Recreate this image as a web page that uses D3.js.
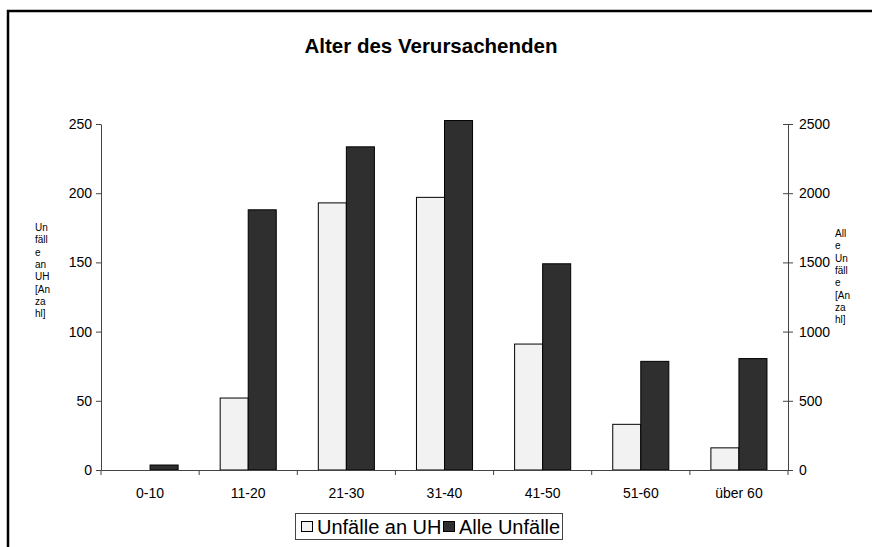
<!DOCTYPE html>
<html><head><meta charset="utf-8">
<script src="https://cdn.jsdelivr.net/npm/d3@7"></script>
<style>body{margin:0;background:#fff}svg{display:block}text{font-family:"Liberation Sans",Arial,sans-serif}</style>
</head><body>
<svg id="c" width="872" height="547"></svg>
<script>
const categories = ["0-10","11-20","21-30","31-40","41-50","51-60","über 60"];
const uhValues = [0, 52, 193, 197, 91, 33, 16];
const alleValues = [36, 1880, 2335, 2525, 1490, 785, 805];
const leftTicks = [0, 50, 100, 150, 200, 250];
const rightTicks = [0, 500, 1000, 1500, 2000, 2500];
const seriesNames = ["Unfälle an UH", "Alle Unfälle"];
const leftLabelLines = ["Un","fäll","e","an","UH","[An","za","hl]"];
const rightLabelLines = ["All","e","Un","fäll","e","[An","za","hl]"];

const svg = d3.select("#c");
const L = 101, R = 788, T = 124, B = 470;
const x = d3.scaleBand().domain(categories).range([L, R]).paddingInner(0).paddingOuter(0);
const xs = d3.scaleBand().domain(seriesNames).range([0, x.bandwidth()]).paddingInner(0).paddingOuter(0.75);
const yL = d3.scaleLinear().domain([0, 250]).range([B, T]);
const yR = d3.scaleLinear().domain([0, 2500]).range([B, T]);

// frame
svg.append("path").attr("d", "M8,547V11H872").attr("fill", "none").attr("stroke", "#000").attr("stroke-width", 2.5);

// title
svg.append("text").attr("x", 431).attr("y", 53).attr("text-anchor", "middle")
  .attr("font-size", 20.5).attr("font-weight", "bold").text("Alter des Verursachenden");

const colors = ["#f2f2f2", "#2f2f2f"];
// bars
const g = svg.append("g");
categories.forEach((c, i) => {
  if (uhValues[i] > 0)
    g.append("rect").attr("x", x(c) + xs(seriesNames[0])).attr("y", yL(uhValues[i]))
      .attr("width", xs.bandwidth()).attr("height", B - yL(uhValues[i]))
      .attr("fill", colors[0]).attr("stroke", "#000").attr("stroke-width", 1);
  if (alleValues[i] > 0)
    g.append("rect").attr("x", x(c) + xs(seriesNames[1])).attr("y", yR(alleValues[i]))
      .attr("width", xs.bandwidth()).attr("height", B - yR(alleValues[i]))
      .attr("fill", colors[1]).attr("stroke", "#000").attr("stroke-width", 1);
});

function styleAxis(sel) {
  sel.select(".domain").attr("stroke", "#444");
  sel.selectAll(".tick line").attr("stroke", "#444");
  sel.selectAll("text").attr("font-size", 14).attr("fill", "#000").attr("font-family", '"Liberation Sans",Arial,sans-serif');
}

// left axis
const ga = svg.append("g").attr("transform", `translate(${L},0)`)
  .call(d3.axisLeft(yL).tickValues(leftTicks).tickFormat(d3.format("d")).tickSize(5).tickPadding(4).tickSizeOuter(0));
styleAxis(ga);
// right axis
const gr = svg.append("g").attr("transform", `translate(${R},0)`)
  .call(d3.axisRight(yR).tickValues(rightTicks).tickFormat(d3.format("d")).tickSize(5).tickPadding(6).tickSizeOuter(0));
styleAxis(gr);
gr.selectAll(".tick line").attr("x1", -5);
// bottom axis
const gb = svg.append("g").attr("transform", `translate(0,${B})`)
  .call(d3.axisBottom(x).tickSize(0).tickPadding(18).tickSizeOuter(0));
styleAxis(gb);
// boundary ticks on category axis
const boundaries = categories.map(c => x(c)).concat([R]);
svg.append("g").selectAll("line").data(boundaries).join("line")
  .attr("x1", d => d).attr("x2", d => d).attr("y1", B).attr("y2", B + 5)
  .attr("stroke", "#444");

// axis labels
const ll = svg.append("text").attr("x", 35).attr("y", 231).attr("font-size", 10);
leftLabelLines.forEach((t, i) => ll.append("tspan").attr("x", 35).attr("dy", i ? 12.3 : 0).text(t));
const rl = svg.append("text").attr("x", 835).attr("y", 237).attr("font-size", 10);
rightLabelLines.forEach((t, i) => rl.append("tspan").attr("x", 835).attr("dy", i ? 12.3 : 0).text(t));

// legend
const lg = svg.append("g");
lg.append("rect").attr("x", 295.5).attr("y", 513.5).attr("width", 267).attr("height", 26)
  .attr("fill", "#fff").attr("stroke", "#444").attr("stroke-width", 1);
const legendX = [301, 443];
seriesNames.forEach((s, i) => {
  lg.append("rect").attr("x", legendX[i] + 0.5).attr("y", 521.5).attr("width", 11).attr("height", 10)
    .attr("fill", colors[i]).attr("stroke", "#000").attr("stroke-width", 1);
  lg.append("text").attr("x", legendX[i] + 16).attr("y", 534).attr("font-size", 20).text(s);
});
</script>
</body></html>
